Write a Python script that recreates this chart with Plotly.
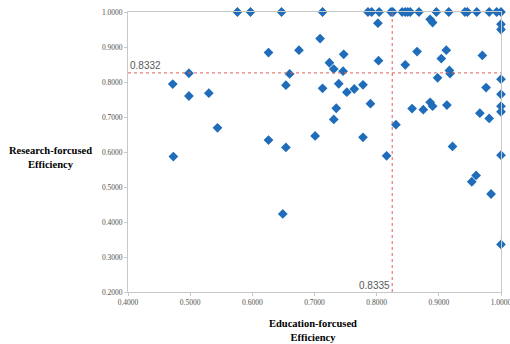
import plotly.graph_objects as go

# Education-forcused efficiency (x) and Research-forcused efficiency (y)
edu = [0.576, 0.597, 0.647, 0.713, 0.786, 0.792, 0.804, 0.823, 0.826, 0.841,
       0.846, 0.850, 0.854, 0.868, 0.896, 0.916, 0.942, 0.946, 0.961, 0.981,
       0.993, 1.000,
       0.802, 0.886, 0.890, 1.000, 1.000,
       0.626, 0.675, 0.709,
       0.472, 0.498, 0.498, 0.530, 0.544,
       0.660, 0.654, 0.626, 0.654, 0.701,
       0.473, 0.649,
       0.747, 0.724, 0.731, 0.746, 0.803,
       0.865, 0.846, 0.912, 0.904, 0.917, 0.918, 0.898, 0.970, 1.000,
       0.713, 0.739, 0.752, 0.764, 0.778, 0.976, 1.000,
       0.735, 0.790, 0.857, 0.875, 0.886, 0.890, 0.913, 1.000, 1.000, 0.966, 0.981,
       0.731, 0.831, 0.778, 0.922,
       0.816, 1.000, 0.960, 0.953, 0.984, 1.000]
research = [1.000, 1.000, 1.000, 1.000, 1.000, 1.000, 1.000, 1.000, 1.000, 1.000,
            1.000, 1.000, 1.000, 1.000, 1.000, 1.000, 1.000, 1.000, 1.000, 1.000,
            1.000, 1.000,
            0.968, 0.979, 0.970, 0.965, 0.950,
            0.884, 0.891, 0.924,
            0.794, 0.825, 0.760, 0.768, 0.669,
            0.823, 0.791, 0.634, 0.613, 0.646,
            0.587, 0.423,
            0.879, 0.855, 0.837, 0.831, 0.861,
            0.887, 0.849, 0.891, 0.867, 0.833, 0.824, 0.812, 0.876, 0.808,
            0.782, 0.795, 0.771, 0.780, 0.792, 0.784, 0.765,
            0.725, 0.738, 0.724, 0.721, 0.742, 0.731, 0.734, 0.731, 0.715, 0.711, 0.696,
            0.693, 0.678, 0.642, 0.616,
            0.589, 0.591, 0.533, 0.515, 0.480, 0.336]

# reference lines (drawn position) and their labels
edu_line = 0.825
research_line = 0.826
edu_label = "0.8335"
research_label = "0.8332"

x_ticks = [0.4, 0.5, 0.6, 0.7, 0.8, 0.9, 1.0]
y_ticks = [0.2, 0.3, 0.4, 0.5, 0.6, 0.7, 0.8, 0.9, 1.0]

fig = go.Figure()
fig.add_trace(go.Scatter(
    x=edu, y=research, mode="markers",
    marker=dict(symbol="diamond", size=7.5, color="#1F6DBA"),
    cliponaxis=False, showlegend=False, hoverinfo="x+y"))

line_style = dict(color="#E0605A", width=1, dash="dot")
fig.add_shape(type="line", xref="x", yref="y", x0=edu_line, x1=edu_line,
              y0=0.2, y1=1.0, line=line_style)
fig.add_shape(type="line", xref="x", yref="y", x0=0.4, x1=1.0,
              y0=research_line, y1=research_line, line=line_style)

fig.add_annotation(x=0.4, y=research_line, xref="x", yref="y", text=research_label,
                   showarrow=False, xanchor="left", yanchor="bottom", xshift=0, yshift=0,
                   font=dict(family="Liberation Sans, Arial", size=10, color="#595959"))
fig.add_annotation(x=edu_line, y=0.2, xref="x", yref="y", text=edu_label,
                   showarrow=False, xanchor="right", yanchor="bottom", xshift=0, yshift=-1,
                   font=dict(family="Liberation Sans, Arial", size=10, color="#595959"))

title_font = dict(family="Liberation Serif, Times New Roman", size=10.5, color="#000000")
fig.add_annotation(x=-0.209, y=0.479, xref="paper", yref="paper",
                   text="<b>Research-forcused<br>Efficiency</b>",
                   showarrow=False, font=title_font, align="center",
                   xanchor="center", yanchor="middle")
fig.add_annotation(x=0.495, y=-0.136, xref="paper", yref="paper",
                   text="<b>Education-forcused<br>Efficiency</b>",
                   showarrow=False, font=title_font, align="center",
                   xanchor="center", yanchor="middle")

axis_common = dict(showgrid=False, zeroline=False, showline=True, mirror=True,
                   linecolor="#C8C8C8", linewidth=1, ticks="outside", ticklen=3,
                   tickcolor="#C8C8C8", tickformat=".4f", ticklabeloverflow="allow",
                   automargin=False,
                   tickfont=dict(family="Liberation Serif, Times New Roman", size=7.5, color="#505050"))
fig.update_xaxes(range=[0.4, 1.0], tickvals=x_ticks, **axis_common)
fig.update_yaxes(range=[0.2, 1.0], tickvals=y_ticks, **axis_common)

fig.update_layout(width=510, height=344, plot_bgcolor="white", paper_bgcolor="white",
                  margin=dict(l=128, r=9, t=12, b=52))
fig.write_html("out.html", config={"displayModeBar": False},
               post_script="document.body.style.margin='0';document.body.style.overflow='hidden';")
